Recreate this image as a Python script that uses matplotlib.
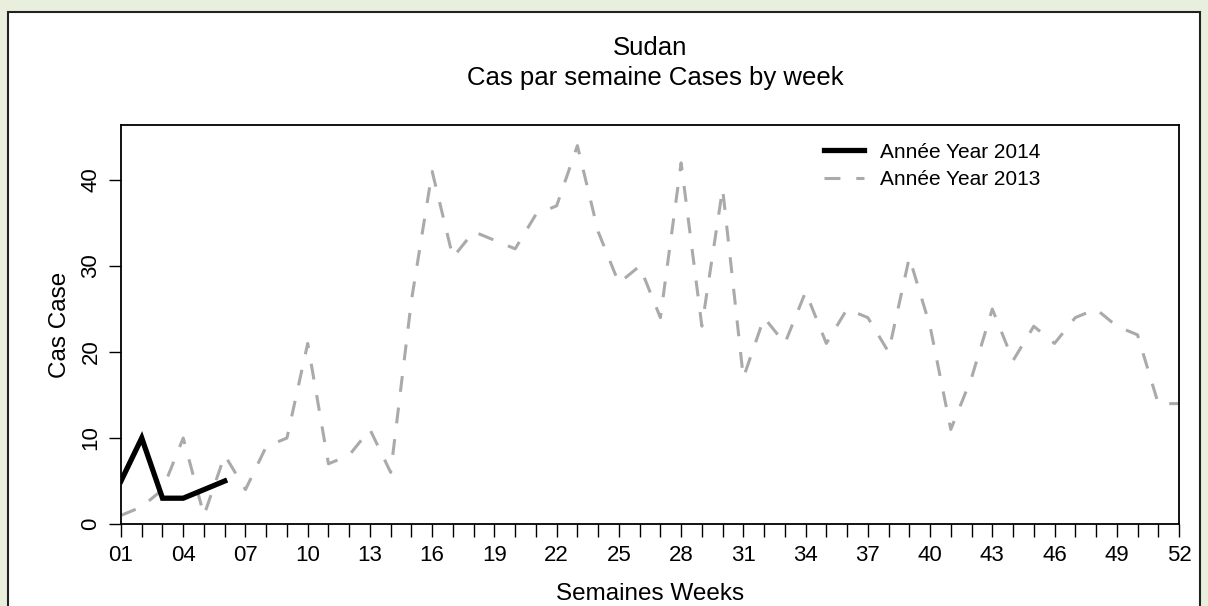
import matplotlib.pyplot as plt
import matplotlib.patches as mpatches
import numpy as np

plt.rcParams['font.family'] = ['Liberation Sans', 'DejaVu Sans']

# données
semaines_2014 = [1, 2, 3, 4, 5, 6]
cas_2014 = [5, 10, 3, 3, 4, 5]

semaines_2013 = list(range(1, 53))
cas_2013 = [1, 2, 4, 10, 1, 8, 4, 9, 10, 21,
            7, 8, 11, 6, 26, 41, 31, 34, 33, 32,
            36, 37, 44, 34, 28, 30, 24, 42, 23, 39,
            17, 24, 21, 27, 21, 25, 24, 20, 31, 23,
            11, 17, 25, 19, 23, 21, 24, 25, 23, 22,
            14, 14]

fig = plt.figure(figsize=(12.08, 6.06), dpi=100)
fig.patch.set_facecolor('#e8f0dd')

# panneau blanc avec bordure
panneau = mpatches.Rectangle((8 / 1208, -0.05), (1200 - 8) / 1208, 1.05 - 12 / 606,
                             transform=fig.transFigure, facecolor='white',
                             edgecolor='#222222', linewidth=1.5, zorder=-10)
fig.patches.append(panneau)

ax = fig.add_axes([121 / 1208, (606 - 524) / 606, 1058 / 1208, 399 / 606])
ax.set_facecolor('none')

ax.plot(semaines_2014, cas_2014, color='black', linewidth=3.8,
        solid_joinstyle='miter', label='Année Year 2014', zorder=3)
ax.plot(semaines_2013, cas_2013, color='#aaaaaa', linewidth=2.2,
        dashes=(5.2, 5.2), label='Année Year 2013', zorder=2)

ax.set_xlim(1, 52)
ax.set_ylim(0, 46.4)

ax.set_xticks(range(1, 53))
ax.set_xticklabels([f"{w:02d}" if (w - 1) % 3 == 0 else "" for w in range(1, 53)])
ax.set_yticks([0, 10, 20, 30, 40])
ax.set_yticklabels(['0', '10', '20', '30', '40'], rotation=90, va='center')

ax.tick_params(axis='x', direction='out', length=9, width=1, labelsize=16, pad=6)
ax.tick_params(axis='y', direction='out', length=9, width=1, labelsize=16, pad=5)

for s in ax.spines.values():
    s.set_linewidth(1.3)

ax.set_xlabel('Semaines Weeks', fontsize=17.5, labelpad=12)
ax.set_ylabel('Cas Case', fontsize=17.5, labelpad=7)

fig.text(650 / 1208, 1 - 48 / 606, 'Sudan', ha='center', va='center', fontsize=18.5)
fig.text(655 / 1208, 1 - 78 / 606, 'Cas par semaine Cases by week',
         ha='center', va='center', fontsize=18.5)

ax.legend(loc='upper left', bbox_to_anchor=(0.655, 0.982), frameon=False,
          fontsize=15, handlelength=1.9, handletextpad=0.75,
          labelspacing=0.4, borderpad=0)

fig.savefig('out.png', dpi=100)
